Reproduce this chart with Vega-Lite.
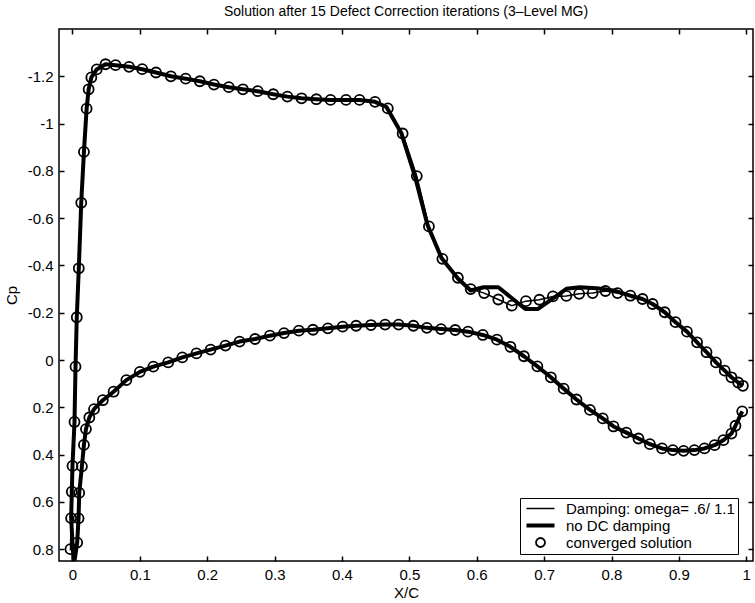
{
  "$schema": "https://vega.github.io/schema/vega-lite/v6.json",
  "width": 694,
  "height": 532,
  "autosize": {"type": "none"},
  "padding": {"left": 59, "top": 29, "right": 2, "bottom": 42},
  "background": "white",
  "title": {"text": "Solution after 15 Defect Correction iterations (3–Level MG)", "fontSize": 14, "fontWeight": "normal", "font": "Liberation Sans", "offset": 9, "color": "black"},
  "config": {
    "font": "Liberation Sans",
    "view": {"stroke": "black", "strokeWidth": 1.5},
    "axis": {"grid": false, "domain": false, "tickColor": "black", "tickSize": -5, "tickWidth": 1.5, "labelPadding": 11, "labelFontSize": 15, "labelColor": "black", "titleFontSize": 15, "titleFontWeight": "normal", "titleColor": "black", "labelFont": "Liberation Sans", "titleFont": "Liberation Sans"}
  },
  "datasets": {
    "conv": [
      {"i":0,"x":0.994,"cp":0.217},{"i":1,"x":0.984,"cp":0.278},{"i":2,"x":0.978,"cp":0.311},{"i":3,"x":0.966,"cp":0.339},{"i":4,"x":0.953,"cp":0.360},{"i":5,"x":0.938,"cp":0.374},{"i":6,"x":0.923,"cp":0.381},{"i":7,"x":0.907,"cp":0.384},{"i":8,"x":0.891,"cp":0.381},{"i":9,"x":0.875,"cp":0.374},
      {"i":10,"x":0.857,"cp":0.356},{"i":11,"x":0.840,"cp":0.332},{"i":12,"x":0.822,"cp":0.307},{"i":13,"x":0.803,"cp":0.281},{"i":14,"x":0.787,"cp":0.247},{"i":15,"x":0.768,"cp":0.211},{"i":16,"x":0.748,"cp":0.167},{"i":17,"x":0.729,"cp":0.121},{"i":18,"x":0.710,"cp":0.073},{"i":19,"x":0.690,"cp":0.027},
      {"i":20,"x":0.670,"cp":-0.016},{"i":21,"x":0.650,"cp":-0.056},{"i":22,"x":0.630,"cp":-0.086},{"i":23,"x":0.609,"cp":-0.106},{"i":24,"x":0.587,"cp":-0.120},{"i":25,"x":0.568,"cp":-0.127},{"i":26,"x":0.547,"cp":-0.131},{"i":27,"x":0.526,"cp":-0.136},{"i":28,"x":0.506,"cp":-0.145},{"i":29,"x":0.484,"cp":-0.150},
      {"i":30,"x":0.464,"cp":-0.150},{"i":31,"x":0.443,"cp":-0.148},{"i":32,"x":0.421,"cp":-0.145},{"i":33,"x":0.401,"cp":-0.141},{"i":34,"x":0.379,"cp":-0.134},{"i":35,"x":0.357,"cp":-0.128},{"i":36,"x":0.336,"cp":-0.124},{"i":37,"x":0.314,"cp":-0.114},{"i":38,"x":0.293,"cp":-0.103},{"i":39,"x":0.271,"cp":-0.089},
      {"i":40,"x":0.248,"cp":-0.078},{"i":41,"x":0.227,"cp":-0.061},{"i":42,"x":0.205,"cp":-0.044},{"i":43,"x":0.184,"cp":-0.028},{"i":44,"x":0.163,"cp":-0.011},{"i":45,"x":0.142,"cp":0.010},{"i":46,"x":0.120,"cp":0.028},{"i":47,"x":0.100,"cp":0.050},{"i":48,"x":0.080,"cp":0.085},{"i":49,"x":0.061,"cp":0.134},
      {"i":50,"x":0.045,"cp":0.170},{"i":51,"x":0.032,"cp":0.208},{"i":52,"x":0.025,"cp":0.243},{"i":53,"x":0.020,"cp":0.292},{"i":54,"x":0.017,"cp":0.359},{"i":55,"x":0.014,"cp":0.450},{"i":56,"x":0.010,"cp":0.562},{"i":57,"x":0.009,"cp":0.670},{"i":58,"x":0.007,"cp":0.772},{"i":59,"x":-0.003,"cp":0.800},
      {"i":60,"x":-0.002,"cp":0.669},{"i":61,"x":-0.001,"cp":0.557},{"i":62,"x":0.000,"cp":0.448},{"i":63,"x":0.003,"cp":0.262},{"i":64,"x":0.0045,"cp":0.028},{"i":65,"x":0.0064,"cp":-0.181},{"i":66,"x":0.0094,"cp":-0.388},{"i":67,"x":0.013,"cp":-0.665},{"i":68,"x":0.017,"cp":-0.880},{"i":69,"x":0.021,"cp":-1.063},
      {"i":70,"x":0.024,"cp":-1.145},{"i":71,"x":0.028,"cp":-1.195},{"i":72,"x":0.036,"cp":-1.229},{"i":73,"x":0.049,"cp":-1.251},{"i":74,"x":0.064,"cp":-1.247},{"i":75,"x":0.084,"cp":-1.240},{"i":76,"x":0.1035,"cp":-1.230},{"i":77,"x":0.124,"cp":-1.216},{"i":78,"x":0.146,"cp":-1.200},{"i":79,"x":0.168,"cp":-1.190},
      {"i":80,"x":0.189,"cp":-1.179},{"i":81,"x":0.210,"cp":-1.165},{"i":82,"x":0.232,"cp":-1.154},{"i":83,"x":0.253,"cp":-1.145},{"i":84,"x":0.275,"cp":-1.137},{"i":85,"x":0.298,"cp":-1.124},{"i":86,"x":0.319,"cp":-1.114},{"i":87,"x":0.340,"cp":-1.107},{"i":88,"x":0.362,"cp":-1.103},{"i":89,"x":0.383,"cp":-1.100},
      {"i":90,"x":0.406,"cp":-1.100},{"i":91,"x":0.426,"cp":-1.100},{"i":92,"x":0.449,"cp":-1.092},{"i":93,"x":0.468,"cp":-1.064},{"i":94,"x":0.490,"cp":-0.958},{"i":95,"x":0.511,"cp":-0.778},{"i":96,"x":0.529,"cp":-0.565},{"i":97,"x":0.549,"cp":-0.428},{"i":98,"x":0.572,"cp":-0.348},{"i":99,"x":0.591,"cp":-0.300},
      {"i":100,"x":0.611,"cp":-0.283},{"i":101,"x":0.632,"cp":-0.256},{"i":102,"x":0.652,"cp":-0.230},{"i":103,"x":0.673,"cp":-0.249},{"i":104,"x":0.693,"cp":-0.255},{"i":105,"x":0.713,"cp":-0.269},{"i":106,"x":0.733,"cp":-0.271},{"i":107,"x":0.752,"cp":-0.280},{"i":108,"x":0.772,"cp":-0.283},{"i":109,"x":0.791,"cp":-0.292},
      {"i":110,"x":0.809,"cp":-0.283},{"i":111,"x":0.828,"cp":-0.272},{"i":112,"x":0.846,"cp":-0.258},{"i":113,"x":0.861,"cp":-0.237},{"i":114,"x":0.879,"cp":-0.202},{"i":115,"x":0.895,"cp":-0.160},{"i":116,"x":0.912,"cp":-0.120},{"i":117,"x":0.927,"cp":-0.075},{"i":118,"x":0.941,"cp":-0.033},{"i":119,"x":0.955,"cp":0.010},
      {"i":120,"x":0.968,"cp":0.045},{"i":121,"x":0.978,"cp":0.073},{"i":122,"x":0.988,"cp":0.095},{"i":123,"x":0.995,"cp":0.109}
    ],
    "nodc": [
      {"i":0,"x":0.994,"cp":0.217},{"i":1,"x":0.984,"cp":0.278},{"i":2,"x":0.978,"cp":0.311},{"i":3,"x":0.966,"cp":0.339},{"i":4,"x":0.953,"cp":0.360},{"i":5,"x":0.938,"cp":0.374},{"i":6,"x":0.923,"cp":0.381},{"i":7,"x":0.907,"cp":0.384},{"i":8,"x":0.891,"cp":0.381},{"i":9,"x":0.875,"cp":0.374},
      {"i":10,"x":0.857,"cp":0.356},{"i":11,"x":0.840,"cp":0.332},{"i":12,"x":0.822,"cp":0.307},{"i":13,"x":0.803,"cp":0.281},{"i":14,"x":0.787,"cp":0.247},{"i":15,"x":0.768,"cp":0.211},{"i":16,"x":0.748,"cp":0.167},{"i":17,"x":0.729,"cp":0.121},{"i":18,"x":0.710,"cp":0.073},{"i":19,"x":0.690,"cp":0.027},
      {"i":20,"x":0.670,"cp":-0.016},{"i":21,"x":0.650,"cp":-0.056},{"i":22,"x":0.630,"cp":-0.086},{"i":23,"x":0.609,"cp":-0.106},{"i":24,"x":0.587,"cp":-0.120},{"i":25,"x":0.568,"cp":-0.127},{"i":26,"x":0.547,"cp":-0.131},{"i":27,"x":0.526,"cp":-0.136},{"i":28,"x":0.506,"cp":-0.145},{"i":29,"x":0.484,"cp":-0.150},
      {"i":30,"x":0.464,"cp":-0.150},{"i":31,"x":0.443,"cp":-0.148},{"i":32,"x":0.421,"cp":-0.145},{"i":33,"x":0.401,"cp":-0.141},{"i":34,"x":0.379,"cp":-0.134},{"i":35,"x":0.357,"cp":-0.128},{"i":36,"x":0.336,"cp":-0.124},{"i":37,"x":0.314,"cp":-0.114},{"i":38,"x":0.293,"cp":-0.103},{"i":39,"x":0.271,"cp":-0.089},
      {"i":40,"x":0.248,"cp":-0.078},{"i":41,"x":0.227,"cp":-0.061},{"i":42,"x":0.205,"cp":-0.044},{"i":43,"x":0.184,"cp":-0.028},{"i":44,"x":0.163,"cp":-0.011},{"i":45,"x":0.142,"cp":0.010},{"i":46,"x":0.120,"cp":0.028},{"i":47,"x":0.100,"cp":0.050},{"i":48,"x":0.080,"cp":0.085},{"i":49,"x":0.061,"cp":0.134},
      {"i":50,"x":0.045,"cp":0.170},{"i":51,"x":0.032,"cp":0.208},{"i":52,"x":0.025,"cp":0.243},{"i":53,"x":0.020,"cp":0.292},{"i":54,"x":0.017,"cp":0.359},{"i":55,"x":0.014,"cp":0.450},{"i":56,"x":0.010,"cp":0.562},{"i":57,"x":0.009,"cp":0.670},{"i":58,"x":0.007,"cp":0.772},{"i":59,"x":0.002,"cp":0.87},
      {"i":60,"x":-0.002,"cp":0.669},{"i":61,"x":-0.001,"cp":0.557},{"i":62,"x":0.000,"cp":0.448},{"i":63,"x":0.003,"cp":0.262},{"i":64,"x":0.0045,"cp":0.028},{"i":65,"x":0.0064,"cp":-0.181},{"i":66,"x":0.0094,"cp":-0.388},{"i":67,"x":0.013,"cp":-0.665},{"i":68,"x":0.017,"cp":-0.880},{"i":69,"x":0.021,"cp":-1.063},
      {"i":70,"x":0.024,"cp":-1.145},{"i":71,"x":0.028,"cp":-1.195},{"i":72,"x":0.036,"cp":-1.229},{"i":73,"x":0.049,"cp":-1.251},{"i":74,"x":0.064,"cp":-1.247},{"i":75,"x":0.084,"cp":-1.240},{"i":76,"x":0.1035,"cp":-1.230},{"i":77,"x":0.124,"cp":-1.216},{"i":78,"x":0.146,"cp":-1.200},{"i":79,"x":0.168,"cp":-1.190},
      {"i":80,"x":0.189,"cp":-1.179},{"i":81,"x":0.210,"cp":-1.165},{"i":82,"x":0.232,"cp":-1.154},{"i":83,"x":0.253,"cp":-1.145},{"i":84,"x":0.275,"cp":-1.137},{"i":85,"x":0.298,"cp":-1.124},{"i":86,"x":0.319,"cp":-1.114},{"i":87,"x":0.340,"cp":-1.107},{"i":88,"x":0.362,"cp":-1.103},{"i":89,"x":0.383,"cp":-1.100},
      {"i":90,"x":0.406,"cp":-1.100},{"i":91,"x":0.426,"cp":-1.100},{"i":92,"x":0.449,"cp":-1.092},{"i":93,"x":0.466,"cp":-1.070},{"i":94,"x":0.488,"cp":-0.960},{"i":95,"x":0.508,"cp":-0.780},{"i":96,"x":0.527,"cp":-0.570},{"i":97,"x":0.548,"cp":-0.430},{"i":98,"x":0.572,"cp":-0.345},{"i":99,"x":0.591,"cp":-0.294},
      {"i":100,"x":0.610,"cp":-0.308},{"i":101,"x":0.632,"cp":-0.308},{"i":102,"x":0.672,"cp":-0.216},{"i":103,"x":0.691,"cp":-0.216},{"i":104,"x":0.716,"cp":-0.266},{"i":105,"x":0.733,"cp":-0.301},{"i":106,"x":0.753,"cp":-0.308},{"i":107,"x":0.778,"cp":-0.304},{"i":108,"x":0.803,"cp":-0.294},
      {"i":110,"x":0.828,"cp":-0.272},{"i":111,"x":0.846,"cp":-0.258},{"i":112,"x":0.861,"cp":-0.237},{"i":113,"x":0.879,"cp":-0.202},{"i":114,"x":0.895,"cp":-0.160},{"i":115,"x":0.912,"cp":-0.120},{"i":116,"x":0.927,"cp":-0.075},{"i":117,"x":0.941,"cp":-0.033},{"i":118,"x":0.955,"cp":0.010},
      {"i":119,"x":0.968,"cp":0.045},{"i":120,"x":0.978,"cp":0.073},{"i":121,"x":0.988,"cp":0.095},{"i":122,"x":0.995,"cp":0.109}
    ]
  },
  "layer": [
    {
      "data": {"name": "nodc"},
      "mark": {"type": "line", "stroke": "black", "strokeWidth": 4, "clip": true, "strokeJoin": "round"},
      "encoding": {
        "x": {"field": "x", "type": "quantitative", "scale": {"domain": [-0.02, 1.01], "nice": false, "zero": false},
              "axis": {"orient": "bottom", "values": [0, 0.1, 0.2, 0.3, 0.4, 0.5, 0.6, 0.7, 0.8, 0.9, 1], "title": "X/C", "titlePadding": 3, "format": "~g"}},
        "y": {"field": "cp", "type": "quantitative", "scale": {"domain": [-1.4, 0.85], "reverse": true, "nice": false, "zero": false},
              "axis": {"orient": "left", "values": [-1.2, -1, -0.8, -0.6, -0.4, -0.2, 0, 0.2, 0.4, 0.6, 0.8], "title": "Cp", "titlePadding": 8, "labelExpr": "replace(format(datum.value, '~g'), '−', '-')"}},
        "order": {"field": "i", "type": "quantitative"}
      }
    },
    {
      "data": {"name": "conv"},
      "mark": {"type": "line", "stroke": "black", "strokeWidth": 1.5, "clip": true},
      "encoding": {
        "x": {"field": "x", "type": "quantitative", "axis": {"orient": "top", "values": [0, 0.1, 0.2, 0.3, 0.4, 0.5, 0.6, 0.7, 0.8, 0.9, 1], "labels": false, "title": null}},
        "y": {"field": "cp", "type": "quantitative", "axis": {"orient": "right", "values": [-1.2, -1, -0.8, -0.6, -0.4, -0.2, 0, 0.2, 0.4, 0.6, 0.8], "labels": false, "title": null}},
        "order": {"field": "i", "type": "quantitative"}
      }
    },
    {
      "data": {"name": "conv"},
      "mark": {"type": "point", "filled": false, "stroke": "black", "strokeWidth": 1.8, "size": 244, "clip": true, "opacity": 1},
      "encoding": {
        "x": {"field": "x", "type": "quantitative", "axis": null},
        "y": {"field": "cp", "type": "quantitative", "axis": null},
        "shape": {
          "datum": "converged solution", "type": "nominal",
          "scale": {"domain": ["Damping: omega= .6/ 1.1", "no DC damping", "converged solution"], "range": ["M-2,0H2", "M-2,0H2", "M-0.64,0A0.64,0.64,0,1,1,0.64,0A0.64,0.64,0,1,1,-0.64,0"]},
          "legend": {
            "title": null, "orient": "none", "legendX": 461, "legendY": 469,
            "padding": 3, "rowPadding": 0, "symbolOffset": 10, "labelOffset": 18, "symbolSize": 196, "labelLimit": 400,
            "labelFontSize": 15, "labelFont": "Liberation Sans", "labelColor": "black",
            "strokeColor": "black", "fillColor": "white",
            "labelExpr": "datum.label + '    '",
            "encoding": {"symbols": {
              "strokeWidth": {"value": {"expr": "datum.value === 'no DC damping' ? 4 : (datum.value === 'converged solution' ? 1.8 : 1.5)"}},
              "stroke": {"value": "black"},
              "fill": {"value": "transparent"},
              "size": {"value": 196},
              "opacity": {"value": 1}
            }}
          }
        }
      }
    }
  ],
  "resolve": {"axis": {"x": "independent", "y": "independent"}}
}
